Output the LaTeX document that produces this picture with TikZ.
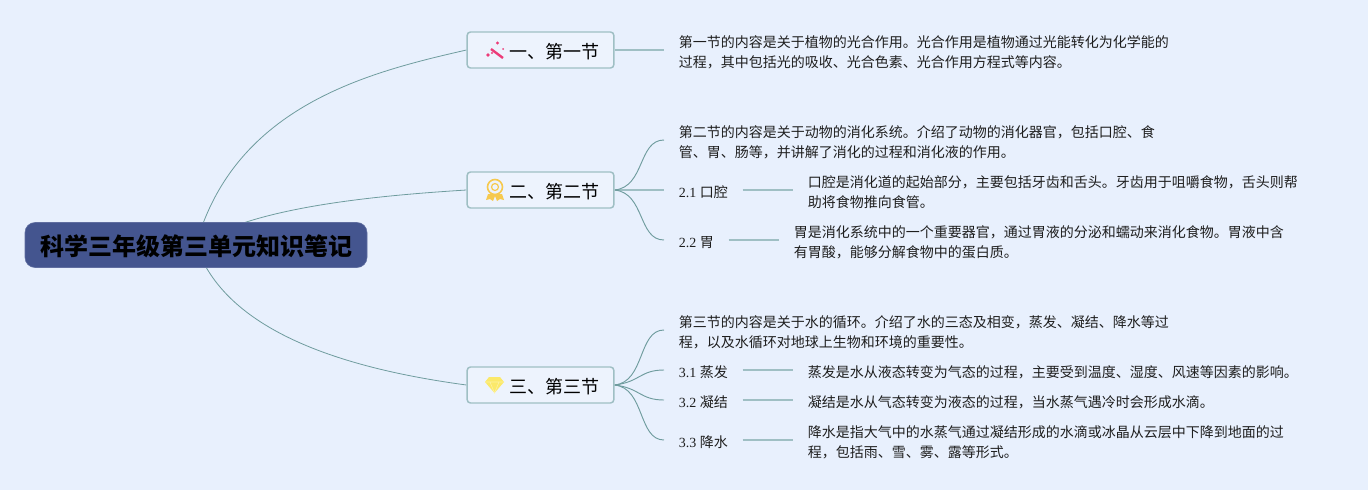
\documentclass[tikz,border=0pt]{standalone}
\usepackage{fontspec}
\setmainfont{Liberation Serif}
\newfontfamily\cjk{Noto Sans CJK SC}
\usetikzlibrary{backgrounds}
\newcommand{\liftline}{\rule{0pt}{12.2pt}}
\definecolor{paper}{HTML}{E8F0FD}
\definecolor{rootblue}{HTML}{44558F}
\definecolor{boxfill}{HTML}{EDF3FD}
\definecolor{stub}{HTML}{9FBFC4}
\definecolor{thin}{HTML}{6F9C9E}
\definecolor{ink}{HTML}{1E1E1E}
\definecolor{wandpink}{HTML}{EC3B78}
\definecolor{medalgold}{HTML}{F6C94E}
\definecolor{gemyellow}{HTML}{FBE96A}
\tikzset{
  rootbox/.style={fill=rootblue,draw=rootblue!85!white,rounded corners=7.5pt,minimum width=256.5pt,minimum height=33.75pt,inner sep=0pt,font=\cjk\bfseries\fontsize{18}{20}\selectfont,text=black,execute at begin node={\rule{0pt}{17.5pt}\hspace{.8pt}}},
  sectionbox/.style={fill=boxfill,draw=stub,line width=1.1pt,rounded corners=2.5pt,minimum width=110pt,minimum height=27pt,inner sep=0pt,font=\cjk\fontsize{13.5}{16}\selectfont,text=black,execute at begin node={\rule{0pt}{13.5pt}}},
  leaf/.style={anchor=west,inner xsep=10.9pt,inner ysep=0pt,align=left,font=\fontsize{10.5}{14.5}\selectfont,text=ink},
  stubline/.style={draw=stub,line width=1.1pt},
  twig/.style={draw=thin,line width=.7pt},
  limb/.style={draw=thin,line width=.6pt},
}
\begin{document}
\begin{tikzpicture}[x=.75pt,y=-.75pt]
  \useasboundingbox (0,0) rectangle (1368,490);
  % main nodes
  \node[rootbox] (root) at (196,245) {科学三年级第三单元知识笔记};
  \node[sectionbox] (s1) at (540.5,50) {\hspace{21pt}一、第一节};
  \node[sectionbox] (s2) at (540.5,190) {\hspace{21pt}二、第二节};
  \node[sectionbox] (s3) at (540.5,385) {\hspace{21pt}三、第三节};
  % section one
  \node[leaf] (t1) at (664,50) {\liftline\cjk 第一节的内容是关于植物的光合作用。光合作用是植物通过光能转化为化学能的\\\cjk 过程，其中包括光的吸收、光合色素、光合作用方程式等内容。};
  % section two
  \node[leaf] (t2) at (664,140) {\liftline\cjk 第二节的内容是关于动物的消化系统。介绍了动物的消化器官，包括口腔、食\\\cjk 管、胃、肠等，并讲解了消化的过程和消化液的作用。};
  \node[leaf] (l21) at (664,190) {\liftline 2.1 {\cjk 口腔}};
  \node[leaf] (t21) at (793,190) {\liftline\cjk 口腔是消化道的起始部分，主要包括牙齿和舌头。牙齿用于咀嚼食物，舌头则帮\\\cjk 助将食物推向食管。};
  \node[leaf] (l22) at (664,240) {\liftline 2.2 {\cjk 胃}};
  \node[leaf] (t22) at (779,240) {\liftline\cjk 胃是消化系统中的一个重要器官，通过胃液的分泌和蠕动来消化食物。胃液中含\\\cjk 有胃酸，能够分解食物中的蛋白质。};
  % section three
  \node[leaf] (t3) at (664,330) {\liftline\cjk 第三节的内容是关于水的循环。介绍了水的三态及相变，蒸发、凝结、降水等过\\\cjk 程，以及水循环对地球上生物和环境的重要性。};
  \node[leaf] (l31) at (664,370) {\liftline 3.1 {\cjk 蒸发}};
  \node[leaf] (t31) at (793,370) {\liftline\cjk 蒸发是水从液态转变为气态的过程，主要受到温度、湿度、风速等因素的影响。};
  \node[leaf] (l32) at (664,400) {\liftline 3.2 {\cjk 凝结}};
  \node[leaf] (t32) at (793,400) {\liftline\cjk 凝结是水从气态转变为液态的过程，当水蒸气遇冷时会形成水滴。};
  \node[leaf] (l33) at (664,440) {\liftline 3.3 {\cjk 降水}};
  \node[leaf] (t33) at (793,440) {\liftline\cjk 降水是指大气中的水蒸气通过凝结形成的水滴或冰晶从云层中下降到地面的过\\\cjk 程，包括雨、雪、雾、露等形式。};
  % connectors
  \begin{scope}[on background layer]
    \fill[paper] (0,0) rectangle (1368,490);
    \draw[limb] (root.center) .. controls (235,105) and (370,72) .. (s1.west);
    \draw[limb] (root.center) .. controls (250,208) and (370,196) .. (s2.west);
    \draw[limb] (root.center) .. controls (225,330) and (340,368) .. (s3.west);
    \draw[stubline] (s1.east) -- (t1.west);
    \draw[stubline] (s2.east) -- (l21.west);
    \draw[stubline] (l21.east) -- (t21.west);
    \draw[stubline] (l22.east) -- (t22.west);
    \draw[stubline] (l31.east) -- (t31.west);
    \draw[stubline] (l32.east) -- (t32.west);
    \draw[stubline] (l33.east) -- (t33.west);
    \draw[twig] (s2.east) .. controls (645,187) and (638,140) .. (t2.west);
    \draw[twig] (s2.east) .. controls (645,193) and (638,240) .. (l22.west);
    \draw[twig] (s3.east) .. controls (645,382) and (638,330) .. (t3.west);
    \draw[twig] (s3.east) .. controls (640,382) and (640,370) .. (l31.west);
    \draw[twig] (s3.east) .. controls (640,388) and (640,400) .. (l32.west);
    \draw[twig] (s3.east) .. controls (645,388) and (638,440) .. (l33.west);
  \end{scope}
  % icons
  \draw[wandpink,line width=1.8pt] (491,49) -- (503,58);
  \fill[wandpink] (497.5,43) circle (1.6) (503,49) circle (1) (488,55) circle (1.8) (492,53) circle (1.1);
  \draw[medalgold,line width=1.2pt] (495,187) circle (7.5);
  \draw[medalgold,line width=.9pt] (495,187) circle (3.5);
  \fill[medalgold] (488,194) -- (486,200) -- (490,199) -- (493,201) -- (495,196) -- (497,201) -- (500,199) -- (504,200) -- (502,194) -- cycle;
  \fill[gemyellow] (485,382) -- (489,377) -- (500,377) -- (504,382) -- (494.5,393) -- cycle;
  \draw[white!40!gemyellow,line width=.4pt] (485,382) -- (504,382) (490,382) -- (494.5,393) -- (499,382);
\end{tikzpicture}
\end{document}
